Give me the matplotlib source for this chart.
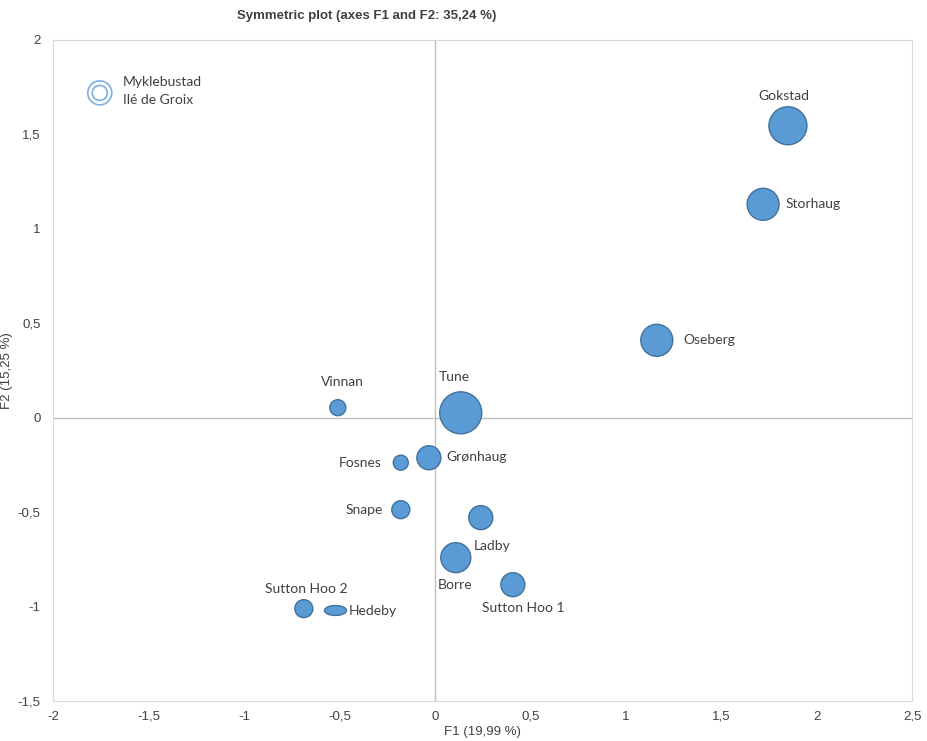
import numpy as np
import matplotlib
matplotlib.use('Agg')
import matplotlib.pyplot as plt

# site coordinates on F1/F2
sites = ['Gokstad', 'Storhaug', 'Oseberg', 'Tune', 'Vinnan', 'Fosnes', 'Grønhaug',
         'Snape', 'Ladby', 'Borre', 'Sutton Hoo 1', 'Sutton Hoo 2']
f1 = [1.85, 1.72, 1.163, 0.136, -0.508, -0.178, -0.031, -0.178, 0.241, 0.11, 0.409, -0.686]
f2 = [1.546, 1.13, 0.41, 0.026, 0.053, -0.238, -0.212, -0.487, -0.529, -0.741, -0.884, -1.011]
radius_px = [19, 16, 16, 21, 8, 7.5, 12, 9, 12, 15, 12, 9]
# label offsets in pixels (dx right, dy up) and alignment
label_dx = [-4, 22, 27, -6, 5, -19, 18, -18, -7, -18, -31, -39]
label_dy = [30, 0, 0, 36, 26, 0, 1, 0, -28, -27, -23, 20]
label_ha = ['center', 'left', 'left', 'center', 'center', 'right', 'left', 'right',
            'left', 'left', 'left', 'left']

hedeby_xy = (-0.524, -1.016)
hollow_xy = (-1.755, 1.72)
hollow_label = 'Myklebustad\nIlé de Groix'

plt.rcParams['font.family'] = ['Lato', 'DejaVu Sans']
fill = '#5b9bd5'
edge = '#41719c'
txt = '#404040'
narrow = ['Liberation Sans', 'DejaVu Sans']
px = 0.72  # points per pixel at dpi 100

fig = plt.figure(figsize=(9.27, 7.41), dpi=100)
ax = fig.add_axes([53/927, 40/741, 859/927, 661/741])

ax.axhline(0, color='#bfbfbf', lw=1, zorder=1)
ax.axvline(0, color='#bfbfbf', lw=1, zorder=1)

sizes = [(2 * r * px) ** 2 for r in radius_px]
ax.scatter(f1, f2, s=sizes, c=fill, edgecolors=edge, linewidths=1, zorder=3)

# Hedeby drawn as a flat ellipse
t = np.linspace(0, 2 * np.pi, 60)
ell = np.column_stack([np.cos(t), 0.45 * np.sin(t)])
ax.scatter([hedeby_xy[0]], [hedeby_xy[1]], s=(22 * px) ** 2, marker=ell,
           c=fill, edgecolors=edge, linewidths=1, zorder=3)
ax.annotate('Hedeby', hedeby_xy, xytext=(14 * px, -1 * px), textcoords='offset points',
            ha='left', va='center', fontsize=10, color=txt)

# hollow double circle
ax.scatter([hollow_xy[0]], [hollow_xy[1]], s=(24 * px) ** 2, facecolors='none',
           edgecolors='#7fb0de', linewidths=1.2, zorder=3)
ax.scatter([hollow_xy[0]], [hollow_xy[1]], s=(15 * px) ** 2, facecolors='none',
           edgecolors='#7fb0de', linewidths=1.2, zorder=3)
ax.annotate(hollow_label, hollow_xy, xytext=(23 * px, 2 * px), textcoords='offset points',
            ha='left', va='center', fontsize=10, color=txt, linespacing=1.55)

for name, x, y, dx, dy, ha in zip(sites, f1, f2, label_dx, label_dy, label_ha):
    ax.annotate(name, (x, y), xytext=(dx * px, dy * px), textcoords='offset points',
                ha=ha, va='center', fontsize=10, color=txt)

ax.set_xlim(-2, 2.5)
ax.set_ylim(-1.5, 2)
xt = np.arange(-2, 2.51, 0.5)
yt = np.arange(-1.5, 2.01, 0.5)
ax.set_xticks(xt)
ax.set_yticks(yt)
fmt = lambda v: ('%g' % round(v, 2)).replace('.', ',')
ax.set_xticklabels([fmt(v) for v in xt], family=narrow, fontsize=9.5)
ax.set_yticklabels([fmt(v) for v in yt], family=narrow, fontsize=9.5)
ax.tick_params(axis='x', length=0, pad=7, colors=txt)
ax.tick_params(axis='y', length=0, pad=9, colors=txt)
for s in ax.spines.values():
    s.set_color('#d9d9d9')

ax.set_xlabel('F1 (19,99 %)', family=narrow, fontsize=9.5, color=txt, labelpad=2)
ax.set_ylabel('F2 (15,25 %)', family=narrow, fontsize=9.5, color=txt)
ax.yaxis.set_label_coords(-40/859, 0.5)
fig.text(367/927, 1 - 16/741, 'Symmetric plot (axes F1 and F2: 35,24 %)', ha='center', va='center',
         family=narrow, fontsize=9.5, fontweight='bold', color=txt)

fig.savefig('out.png', dpi=100)
